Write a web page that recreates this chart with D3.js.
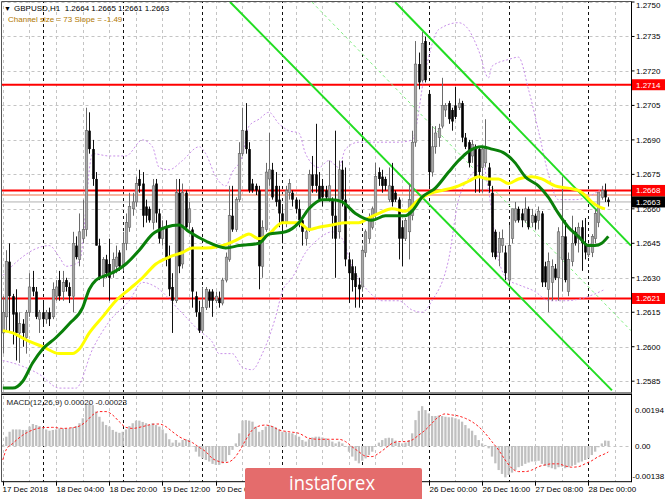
<!DOCTYPE html>
<html><head><meta charset="utf-8">
<script src="https://cdn.jsdelivr.net/npm/d3@7"></script>
<style>
html,body{margin:0;padding:0;background:#fff;}
svg{display:block;font-family:"Liberation Sans",Arial,sans-serif;}
</style></head><body>
<svg id="c" width="665" height="499"></svg>
<script>
// ---------- DATA ----------
const symbolTitle = "GBPUSD,H1";
const indicatorTitle = "Channel size = 73 Slope = -1.49";
const macdTitle = "MACD(12,26,9) 0.00020 -0.00023";

const opens = [
1.2606,1.2613,1.2637,1.2622,1.2615,1.2606,1.2610,1.2604,1.2615,1.2626,
1.2624,1.2612,1.2615,1.2612,1.2615,1.2613,1.2622,1.2629,1.2624,1.2629,
1.2626,1.2622,1.2644,1.2638,1.2647,1.2651,1.2694,1.2686,1.2673,1.2644,
1.2630,1.2638,1.2636,1.2632,1.2635,1.2641,1.2635,1.2645,1.2652,1.2660,
1.2663,1.2673,1.2671,1.2661,1.2660,1.2654,1.2671,1.2658,1.2647,1.2652,
1.2639,1.2626,1.2620,1.2667,1.2636,1.2667,1.2654,1.2651,1.2622,1.2615,
1.2607,1.2617,1.2624,1.2624,1.2620,1.2621,1.2619,1.2629,1.2638,1.2657,
1.2651,1.2664,1.2684,1.2694,1.2686,1.2671,1.2670,1.2668,1.2635,1.2651,
1.2673,1.2677,1.2670,1.2664,1.2658,1.2654,1.2667,1.2667,1.2664,1.2660,
1.2655,1.2647,1.2651,1.2675,1.2675,1.2670,1.2670,1.2668,1.2664,1.2664,
1.2657,1.2650,1.2677,1.2664,1.2638,1.2635,1.2632,1.2627,1.2626,1.2641,
1.2647,1.2652,1.2657,1.2676,1.2674,1.2673,1.2664,1.2670,1.2667,1.2664,
1.2652,1.2647,1.2650,1.2657,1.2689,1.2723,1.2716,1.2733,1.2710,1.2676,
1.2687,1.2691,1.2696,1.2703,1.2706,1.2703,1.2705,1.2704,1.2706,1.2691,
1.2689,1.2683,1.2687,1.2686,1.2678,1.2680,1.2678,1.2667,1.2650,1.2641,
1.2644,1.2641,1.2629,1.2647,1.2655,1.2660,1.2658,1.2655,1.2660,1.2654,
1.2657,1.2655,1.2658,1.2635,1.2625,1.2628,1.2634,1.2630,1.2638,1.2648,
1.2624,1.2637,1.2650,1.2647,1.2652,1.2645,1.2640,1.2641,1.2647,1.2654,
1.2665,1.2668,1.2664];
const highs = [
1.2622,1.2642,1.2645,1.2623,1.2625,1.2615,1.2612,1.2616,1.2632,1.2633,
1.2626,1.2616,1.2620,1.2616,1.2617,1.2628,1.2629,1.2633,1.2633,1.2630,
1.2628,1.2650,1.2648,1.2658,1.2664,1.2704,1.2702,1.2690,1.2676,1.2647,
1.2639,1.2640,1.2647,1.2641,1.2644,1.2642,1.2650,1.2658,1.2667,1.2667,
1.2674,1.2677,1.2676,1.2664,1.2661,1.2673,1.2673,1.2660,1.2655,1.2655,
1.2644,1.2632,1.2673,1.2673,1.2671,1.2668,1.2663,1.2652,1.2624,1.2620,
1.2626,1.2626,1.2625,1.2625,1.2624,1.2624,1.2630,1.2641,1.2670,1.2670,
1.2665,1.2689,1.2704,1.2706,1.2689,1.2673,1.2671,1.2670,1.2655,1.2680,
1.2693,1.2680,1.2676,1.2670,1.2661,1.2670,1.2673,1.2668,1.2665,1.2664,
1.2657,1.2652,1.2677,1.2683,1.2697,1.2676,1.2673,1.2670,1.2681,1.2665,
1.2694,1.2681,1.2681,1.2678,1.2641,1.2638,1.2635,1.2630,1.2644,1.2651,
1.2658,1.2661,1.2680,1.2678,1.2677,1.2674,1.2678,1.2680,1.2668,1.2665,
1.2655,1.2656,1.2671,1.2694,1.2733,1.2728,1.2737,1.2735,1.2711,1.2696,
1.2696,1.2697,1.2717,1.2706,1.2707,1.2704,1.2713,1.2708,1.2707,1.2693,
1.2690,1.2690,1.2688,1.2687,1.2687,1.2699,1.2680,1.2670,1.2651,1.2650,
1.2651,1.2644,1.2653,1.2660,1.2663,1.2661,1.2660,1.2665,1.2661,1.2660,
1.2658,1.2661,1.2659,1.2637,1.2641,1.2638,1.2636,1.2652,1.2674,1.2655,
1.2641,1.2657,1.2652,1.2654,1.2655,1.2656,1.2645,1.2649,1.2660,1.2667,
1.2670,1.2671,1.2665];
const lows = [
1.2597,1.2607,1.2606,1.2601,1.2594,1.2593,1.2600,1.2597,1.2613,1.2622,
1.2612,1.2606,1.2609,1.2610,1.2609,1.2612,1.2620,1.2620,1.2620,1.2624,
1.2619,1.2615,1.2638,1.2635,1.2645,1.2648,1.2684,1.2670,1.2644,1.2629,
1.2626,1.2630,1.2620,1.2630,1.2632,1.2633,1.2633,1.2642,1.2650,1.2657,
1.2661,1.2667,1.2652,1.2654,1.2654,1.2651,1.2654,1.2645,1.2644,1.2635,
1.2622,1.2606,1.2619,1.2632,1.2634,1.2651,1.2651,1.2617,1.2613,1.2606,
1.2606,1.2616,1.2617,1.2613,1.2619,1.2617,1.2618,1.2628,1.2637,1.2650,
1.2650,1.2663,1.2683,1.2684,1.2667,1.2667,1.2666,1.2625,1.2630,1.2650,
1.2670,1.2664,1.2661,1.2652,1.2645,1.2652,1.2664,1.2661,1.2658,1.2652,
1.2644,1.2644,1.2650,1.2667,1.2667,1.2663,1.2661,1.2664,1.2663,1.2647,
1.2630,1.2647,1.2661,1.2635,1.2619,1.2624,1.2617,1.2617,1.2624,1.2639,
1.2645,1.2651,1.2655,1.2670,1.2667,1.2668,1.2663,1.2661,1.2663,1.2638,
1.2635,1.2646,1.2638,1.2655,1.2687,1.2712,1.2715,1.2715,1.2670,1.2674,
1.2684,1.2687,1.2695,1.2700,1.2697,1.2694,1.2699,1.2703,1.2689,1.2686,
1.2678,1.2680,1.2667,1.2667,1.2667,1.2678,1.2667,1.2639,1.2638,1.2635,
1.2641,1.2629,1.2628,1.2645,1.2654,1.2654,1.2652,1.2654,1.2651,1.2652,
1.2651,1.2651,1.2626,1.2626,1.2615,1.2620,1.2629,1.2620,1.2624,1.2628,
1.2622,1.2635,1.2644,1.2641,1.2633,1.2638,1.2639,1.2639,1.2645,1.2652,
1.2664,1.2663,1.2661];
const closes = [
1.2615,1.2637,1.2622,1.2614,1.2606,1.2610,1.2606,1.2615,1.2626,1.2624,
1.2613,1.2615,1.2612,1.2615,1.2612,1.2625,1.2626,1.2622,1.2628,1.2626,
1.2622,1.2645,1.2639,1.2650,1.2651,1.2694,1.2686,1.2673,1.2644,1.2630,
1.2638,1.2632,1.2630,1.2638,1.2639,1.2635,1.2645,1.2654,1.2661,1.2663,
1.2671,1.2670,1.2657,1.2657,1.2655,1.2670,1.2658,1.2647,1.2652,1.2638,
1.2625,1.2620,1.2667,1.2635,1.2667,1.2652,1.2660,1.2624,1.2615,1.2607,
1.2617,1.2625,1.2620,1.2620,1.2622,1.2619,1.2629,1.2639,1.2657,1.2651,
1.2664,1.2684,1.2694,1.2686,1.2668,1.2668,1.2668,1.2635,1.2652,1.2676,
1.2677,1.2665,1.2663,1.2658,1.2654,1.2668,1.2671,1.2664,1.2660,1.2655,
1.2650,1.2650,1.2675,1.2670,1.2670,1.2664,1.2665,1.2665,1.2670,1.2657,
1.2647,1.2677,1.2664,1.2638,1.2632,1.2629,1.2626,1.2625,1.2642,1.2650,
1.2655,1.2660,1.2674,1.2673,1.2670,1.2670,1.2670,1.2663,1.2664,1.2647,
1.2647,1.2655,1.2664,1.2689,1.2723,1.2715,1.2732,1.2716,1.2676,1.2687,
1.2693,1.2695,1.2705,1.2705,1.2699,1.2698,1.2700,1.2706,1.2691,1.2687,
1.2680,1.2688,1.2674,1.2676,1.2686,1.2687,1.2670,1.2641,1.2639,1.2647,
1.2647,1.2632,1.2644,1.2660,1.2660,1.2655,1.2655,1.2660,1.2652,1.2657,
1.2654,1.2659,1.2628,1.2628,1.2637,1.2635,1.2630,1.2650,1.2648,1.2629,
1.2638,1.2645,1.2645,1.2652,1.2645,1.2641,1.2644,1.2648,1.2658,1.2667,
1.2668,1.2665,1.2663];

// moving averages / bands: [bar index, price]
const maGreen = [[0,1.2582],[3,1.2582],[6,1.2585],[9,1.2593],[12,1.2599],[16,1.2604],[20,1.2610],[24,1.2617],[26,1.2625],[28,1.2629],[31,1.2631],[34,1.2633],[37,1.2636],[41,1.2642],[45,1.2649],[49,1.2652],[53,1.2653],[56,1.2650],[61,1.2646],[67,1.2643],[71,1.2644],[77,1.2645],[80,1.2649],[85,1.2650],[89,1.2654],[92,1.2660],[96,1.2664],[99,1.2664],[102,1.2663],[106,1.2658],[111,1.2655],[115,1.2657],[121,1.2657],[123,1.2659],[126,1.2665],[130,1.2669],[134,1.2676],[137,1.2681],[140,1.2685],[144,1.2687],[147,1.2686],[151,1.2684],[154,1.2680],[157,1.2674],[161,1.2670],[164,1.2665],[167,1.2658],[170,1.2652],[173,1.2648],[176,1.2644],[178,1.2644],[180,1.2645],[182,1.2648]];
const maYellow = [[0,1.2607],[3,1.2606],[7,1.2603],[12,1.2600],[17,1.2597],[21,1.2597],[23,1.2599],[26,1.2606],[30,1.2613],[34,1.2620],[38,1.2625],[42,1.2630],[46,1.2636],[50,1.2639],[54,1.2641],[57,1.2643],[61,1.2643],[68,1.2645],[71,1.2647],[74,1.2649],[77,1.2647],[80,1.2649],[84,1.2654],[89,1.2654],[92,1.2651],[95,1.2652],[99,1.2653],[103,1.2654],[107,1.2654],[110,1.2656],[113,1.2658],[117,1.2660],[121,1.2659],[125,1.2664],[129,1.2667],[132,1.2668],[137,1.2670],[140,1.2672],[143,1.2674],[146,1.2673],[149,1.2673],[152,1.2671],[155,1.2673],[159,1.2674],[162,1.2673],[166,1.2670],[170,1.2669],[173,1.2668],[175,1.2666],[177,1.2663],[179,1.2661],[181,1.2660]];
const bbUpper = [[0,1.2631],[5,1.2638],[9,1.2642],[14,1.2644],[17,1.2639],[19,1.2635],[23,1.2637],[27,1.2684],[32,1.2683],[37,1.2683],[42,1.2690],[45,1.2687],[47,1.2678],[50,1.2677],[54,1.2681],[59,1.2687],[61,1.2684],[64,1.2674],[67,1.2670],[69,1.2676],[72,1.2683],[74,1.2696],[77,1.2699],[80,1.2702],[83,1.2697],[86,1.2694],[89,1.2693],[91,1.2684],[95,1.2678],[98,1.2681],[101,1.2678],[103,1.2686],[107,1.2689],[112,1.2689],[119,1.2689],[123,1.2690],[127,1.2720],[131,1.2738],[137,1.2741],[140,1.2738],[143,1.2729],[146,1.2717],[147,1.2722],[152,1.2725],[155,1.2726],[158,1.2712],[161,1.2694],[164,1.2675],[167,1.2664],[172,1.2664],[177,1.2666],[181,1.2670]];
const bbLower = [[0,1.2594],[5,1.2592],[11,1.2588],[17,1.2582],[22,1.2582],[27,1.2599],[32,1.2611],[38,1.2620],[42,1.2628],[46,1.2626],[53,1.2616],[59,1.2607],[63,1.2602],[65,1.2597],[69,1.2597],[72,1.2591],[75,1.2590],[78,1.2597],[82,1.2613],[84,1.2624],[87,1.2630],[91,1.2641],[95,1.2647],[99,1.2650],[102,1.2647],[105,1.2635],[110,1.2624],[114,1.2620],[119,1.2620],[123,1.2616],[126,1.2615],[129,1.2620],[134,1.2638],[137,1.2664],[142,1.2677],[144,1.2681],[146,1.2668],[149,1.2638],[152,1.2629],[155,1.2627],[160,1.2624],[164,1.2620],[169,1.2620],[174,1.2621],[178,1.2623],[181,1.2625]];

// channel lines: [bar index, price] end points
const channelUpper = [[117.9,1.2750],[188.8,1.2644]];
const channelLower = [[68.3,1.2750],[183.1,1.2581]];
const channelMid = [[92.9,1.2750],[188.8,1.2607]];

const redLevels = [1.2714, 1.2668, 1.2621];
const salmonLevel = 1.2666;
const bidLevel = 1.2663;
const priceTicks = [1.2750,1.2735,1.2720,1.2705,1.2690,1.2675,1.2660,1.2645,1.2630,1.2615,1.2600,1.2585];

const macdHist = [
0.00004,0.00036,0.00055,0.00064,0.00064,0.00064,0.00062,0.00062,0.00075,0.00085,
0.00081,0.00077,0.00068,0.00064,0.00059,0.00062,0.00064,0.00068,0.00068,0.00068,
0.00068,0.00072,0.00077,0.00088,0.00107,0.00158,0.00165,0.00158,0.00133,0.00113,
0.00094,0.00081,0.00075,0.00062,0.00055,0.00051,0.00055,0.00064,0.00077,0.00088,
0.00098,0.00098,0.00093,0.00088,0.00081,0.00088,0.00081,0.00075,0.00064,0.00049,
0.00026,0.00013,0.00023,0.00013,0.00023,0.00026,0.00023,-0.00002,-0.00022,-0.00041,
-0.00048,-0.00054,-0.00060,-0.00069,-0.00073,-0.00073,-0.00067,-0.00060,-0.00035,-0.00015,
0.00010,0.00049,0.00098,0.00100,0.00098,0.00094,0.00075,0.00055,0.00062,0.00075,
0.00081,0.00077,0.00072,0.00064,0.00055,0.00055,0.00051,0.00049,0.00042,0.00036,
0.00023,0.00017,0.00026,0.00033,0.00036,0.00036,0.00033,0.00030,0.00023,0.00017,
0.00010,0.00017,0.00010,-0.00001,-0.00022,-0.00041,-0.00057,-0.00067,-0.00057,-0.00048,
-0.00035,-0.00022,-0.00003,0.00013,0.00023,0.00030,0.00032,0.00030,0.00021,0.00013,
0.00010,0.00013,0.00023,0.00049,0.00100,0.00136,0.00154,0.00139,0.00126,0.00116,
0.00116,0.00118,0.00116,0.00113,0.00111,0.00111,0.00107,0.00103,0.00094,0.00081,
0.00068,0.00059,0.00042,0.00023,0.00010,0.00004,-0.00009,-0.00041,-0.00067,-0.00093,
-0.00108,-0.00121,-0.00112,-0.00103,-0.00093,-0.00082,-0.00077,-0.00069,-0.00064,-0.00060,
-0.00060,-0.00057,-0.00069,-0.00077,-0.00082,-0.00086,-0.00090,-0.00082,-0.00080,-0.00086,
-0.00082,-0.00077,-0.00073,-0.00064,-0.00060,-0.00054,-0.00048,-0.00035,-0.00022,-0.00005,
0.00010,0.00021,0.00020];
const macdSignal = [[0,-0.00054],[1,-0.00015],[3,0.00010],[6,0.00042],[9,0.00062],[12,0.00071],[15,0.00072],[18,0.00068],[21,0.00071],[23,0.00077],[25,0.00094],[27,0.00120],[29,0.00133],[31,0.00133],[33,0.00120],[35,0.00094],[37,0.00072],[39,0.00068],[42,0.00075],[45,0.00084],[47,0.00085],[49,0.00075],[51,0.00055],[53,0.00036],[55,0.00023],[57,0.00013],[59,-0.00005],[61,-0.00022],[63,-0.00048],[65,-0.00060],[67,-0.00064],[69,-0.00054],[71,-0.00022],[73,0.00023],[75,0.00062],[77,0.00077],[79,0.00081],[81,0.00075],[83,0.00062],[86,0.00055],[89,0.00049],[92,0.00030],[95,0.00026],[98,0.00026],[101,0.00026],[103,0.00017],[105,-0.00003],[107,-0.00022],[109,-0.00039],[111,-0.00041],[113,-0.00028],[115,-0.00009],[117,0.00010],[119,0.00017],[121,0.00017],[123,0.00023],[125,0.00042],[127,0.00062],[129,0.00088],[131,0.00113],[133,0.00124],[135,0.00120],[137,0.00116],[139,0.00107],[141,0.00094],[143,0.00075],[145,0.00049],[147,0.00017],[149,-0.00015],[151,-0.00054],[153,-0.00086],[155,-0.00099],[157,-0.00099],[159,-0.00093],[161,-0.00080],[163,-0.00073],[165,-0.00069],[167,-0.00069],[169,-0.00077],[171,-0.00082],[173,-0.00080],[175,-0.00069],[177,-0.00057],[179,-0.00041],[181,-0.00030],[182,-0.00023]];
const macdTicks = [0.00194, 0.00, -0.00138];
const macdTickLabels = ["0.00194", "0.00", "-0.00138"];

// time labels visible in the reference (the ones under the watermark are hidden there)
const timeLabels = [[0,"17 Dec 2018"],[16,"18 Dec 04:00"],[32,"18 Dec 20:00"],[48,"19 Dec 12:00"],[64,"20 Dec 04:00"],[128,"26 Dec 00:00"],[144,"26 Dec 16:00"],[160,"27 Dec 08:00"],[176,"28 Dec 00:00"]];
const daySeparators = [12,36,60,84,108,128,152,176];
const gridBars = d3.range(0, 189, 8);

// ---------- LAYOUT ----------
const svg = d3.select("#c");
const L = 1.5, R = 631.5, T = 1.5, MB = 392, ST = 395.8, SB = 481.7;
const x = d3.scaleLinear().domain([0, 1]).range([2.8, 2.8 + 3.327]);
const y = d3.scaleLinear().domain([1.2585, 1.2750]).range([381.2, 2.0]);
const ym = d3.scaleLinear().domain([-0.00138, 0.00194]).range([SB, ST]);

svg.append("rect").attr("width", 665).attr("height", 499).attr("fill", "#fff");
const defs = svg.append("defs");
defs.append("clipPath").attr("id", "cm").append("rect").attr("x", L).attr("y", T).attr("width", R - L).attr("height", MB - T);
defs.append("clipPath").attr("id", "cs").append("rect").attr("x", L).attr("y", ST - 1).attr("width", R - L).attr("height", SB - ST + 1);
defs.append("clipPath").attr("id", "cl").append("rect").attr("x", 0).attr("y", 0).attr("width", 245).attr("height", 499);

const gm = svg.append("g").attr("clip-path", "url(#cm)");
const gs = svg.append("g").attr("clip-path", "url(#cs)");

// grids
priceTicks.forEach(p => {
  gm.append("line").attr("x1", L).attr("x2", R).attr("y1", Math.round(y(p)) + 0.5).attr("y2", Math.round(y(p)) + 0.5)
    .attr("stroke", "#c4c4c4").attr("stroke-dasharray", "3,3");
});
gs.append("line").attr("x1", L).attr("x2", R).attr("y1", Math.round(ym(0)) + 0.5).attr("y2", Math.round(ym(0)) + 0.5)
  .attr("stroke", "#c4c4c4").attr("stroke-dasharray", "3,3");
[gm, gs].forEach(g => {
  gridBars.filter(b => !daySeparators.includes(b)).forEach(b => {
    g.append("line").attr("x1", Math.round(x(b)) + 0.5).attr("x2", Math.round(x(b)) + 0.5).attr("y1", 0).attr("y2", 499)
      .attr("stroke", "#c4c4c4").attr("stroke-dasharray", "3,3");
  });
  daySeparators.forEach(b => {
    g.append("line").attr("x1", Math.round(x(b)) + 0.5).attr("x2", Math.round(x(b)) + 0.5).attr("y1", 0).attr("y2", 499)
      .attr("stroke", "#111").attr("stroke-dasharray", "3,3");
  });
});

// horizontal levels
const hl = (p, col, w) => gm.append("line").attr("x1", L).attr("x2", R).attr("y1", y(p)).attr("y2", y(p)).attr("stroke", col).attr("stroke-width", w);
hl(bidLevel, "#b0b0b0", 1);
hl(salmonLevel, "#f59c80", 1.5);
redLevels.forEach(p => hl(p, "#ff0000", 2));

// bands
const lineGen = d3.line().x(d => x(d[0])).y(d => y(d[1])).curve(d3.curveMonotoneX);
[bbUpper, bbLower].forEach(b => gm.append("path").attr("d", lineGen(b)).attr("fill", "none")
  .attr("stroke", "#c890e8").attr("stroke-width", 1).attr("stroke-dasharray", "2,2"));

// channel lines
const straight = d3.line().x(d => x(d[0])).y(d => y(d[1]));
gm.append("path").attr("d", straight(channelMid)).attr("stroke", "#80ee80").attr("stroke-width", 1).attr("stroke-dasharray", "3,3").attr("fill", "none");
[channelUpper, channelLower].forEach(c => gm.append("path").attr("d", straight(c)).attr("stroke", "#22dd22").attr("stroke-width", 2).attr("fill", "none"));

// candles
const candles = opens.map((o, i) => ({i, o, h: highs[i], l: lows[i], c: closes[i]}));
candles.forEach(d => {
  const bull = d.c >= d.o;
  const cx = Math.round(x(d.i)) + 0.5;
  gm.append("line").attr("x1", cx).attr("x2", cx).attr("y1", y(d.h)).attr("y2", y(d.l))
    .attr("stroke", bull ? "#6a6a6a" : "#111").attr("stroke-width", 1);
  const top = y(Math.max(d.o, d.c)), bot = y(Math.min(d.o, d.c));
  gm.append("rect").attr("x", cx - 1.3).attr("width", 2.6).attr("y", top).attr("height", Math.max(1, bot - top))
    .attr("fill", bull ? "#a8a8a8" : "#000").attr("stroke", bull ? "#5a5a5a" : "none").attr("stroke-width", 0.5);
});

// moving averages
gm.append("path").attr("d", lineGen(maYellow)).attr("fill", "none").attr("stroke", "#ffff00").attr("stroke-width", 3);
gm.append("path").attr("d", lineGen(maGreen)).attr("fill", "none").attr("stroke", "#0a800a").attr("stroke-width", 3);

// MACD
macdHist.forEach((v, i) => {
  const a = ym(Math.max(0, v)), b = ym(Math.min(0, v));
  gs.append("rect").attr("x", x(i) - 1).attr("width", 2.3).attr("y", a).attr("height", Math.max(0.5, b - a)).attr("fill", "#c0c0c0");
});
gs.append("path").attr("d", d3.line().x(d => x(d[0])).y(d => ym(d[1])).curve(d3.curveMonotoneX)(macdSignal))
  .attr("fill", "none").attr("stroke", "#ff2020").attr("stroke-width", 1).attr("stroke-dasharray", "2.5,2");

// frames
svg.append("line").attr("x1", L).attr("x2", L).attr("y1", T).attr("y2", SB).attr("stroke", "#555");
svg.append("line").attr("x1", L).attr("x2", R).attr("y1", T).attr("y2", T).attr("stroke", "#555");
svg.append("line").attr("x1", R).attr("x2", R).attr("y1", T).attr("y2", SB + 0.5).attr("stroke", "#000");
svg.append("rect").attr("x", L).attr("y", 392).attr("width", R - L).attr("height", 2).attr("fill", "#8a8a8a");
svg.append("line").attr("x1", L).attr("x2", R).attr("y1", 394.5).attr("y2", 394.5).attr("stroke", "#000");
svg.append("line").attr("x1", L).attr("x2", R).attr("y1", SB).attr("y2", SB).attr("stroke", "#000");

// price axis
const fs = "8px";
priceTicks.forEach(p => {
  const yy = p === 1.2750 ? 5 : y(p);
  svg.append("line").attr("x1", R).attr("x2", R + 3).attr("y1", y(p)).attr("y2", y(p)).attr("stroke", "#000");
  if (Math.abs(p - bidLevel) > 0.0002)
    svg.append("text").attr("x", 636).attr("y", yy).attr("dy", "0.35em").attr("font-size", fs).attr("fill", "#000").text(p.toFixed(4));
});
const tag = (p, bg, fg, showText) => {
  svg.append("rect").attr("x", R + 0.5).attr("y", y(p) - 5.5).attr("width", 665 - R).attr("height", 11).attr("fill", bg);
  if (showText) svg.append("text").attr("x", 636).attr("y", y(p)).attr("dy", "0.35em").attr("font-size", fs).attr("fill", fg).text(p.toFixed(4));
};
tag(salmonLevel, "#f7846a", "#fff", false);
redLevels.forEach(p => tag(p, "#ff0000", "#fff", true));
tag(bidLevel, "#000", "#fff", true);

// macd axis
const macdLabelY = [410, 446, 476];
macdTicks.forEach((v, k) => {
  svg.append("text").attr("x", v < 0 ? 632.5 : 635).attr("y", macdLabelY[k]).attr("dy", "0.35em").attr("font-size", fs).attr("fill", "#000").text(macdTickLabels[k]);
});

// time axis
d3.range(0, 184, 16).forEach(b => {
  const xx = Math.round(x(b)) + 0.5;
  svg.append("line").attr("x1", xx).attr("x2", xx).attr("y1", SB).attr("y2", SB + 4).attr("stroke", "#000");
});
timeLabels.forEach(([b, t]) => {
  const xx = Math.round(x(b)) + 0.5;
  svg.append("text").attr("x", b === 0 ? 2.5 : xx).attr("y", 492).attr("font-size", fs).attr("fill", "#000")
    .attr("clip-path", b === 64 ? "url(#cl)" : null).text(t);
});

// titles
const last = opens.length - 1;
svg.append("text").attr("x", 4).attr("y", 11).attr("font-size", "7px").attr("fill", "#000").text("▼");
svg.append("text").attr("x", 14).attr("y", 11).attr("font-size", fs).attr("fill", "#000").attr("xml:space", "preserve")
  .text(`${symbolTitle}  ${opens[last].toFixed(4)} ${highs[last].toFixed(4)} ${lows[last].toFixed(4)} ${closes[last].toFixed(4)}`);
svg.append("text").attr("x", 8).attr("y", 22).attr("font-size", fs).attr("fill", "#b07800").text(indicatorTitle);
svg.append("text").attr("x", 6.5).attr("y", 404.5).attr("font-size", fs).attr("fill", "#222").text(macdTitle);

// watermark
svg.append("rect").attr("x", 245).attr("y", 468).attr("width", 177).attr("height", 34).attr("rx", 2).attr("fill", "#e46c6c");
svg.append("text").attr("x", 332).attr("y", 490).attr("text-anchor", "middle").attr("font-family", "'Open Sans',sans-serif")
  .attr("font-size", "20px").attr("textLength", 86).attr("lengthAdjust", "spacingAndGlyphs").attr("fill", "#fff").text("instaforex");
</script>
</body></html>
